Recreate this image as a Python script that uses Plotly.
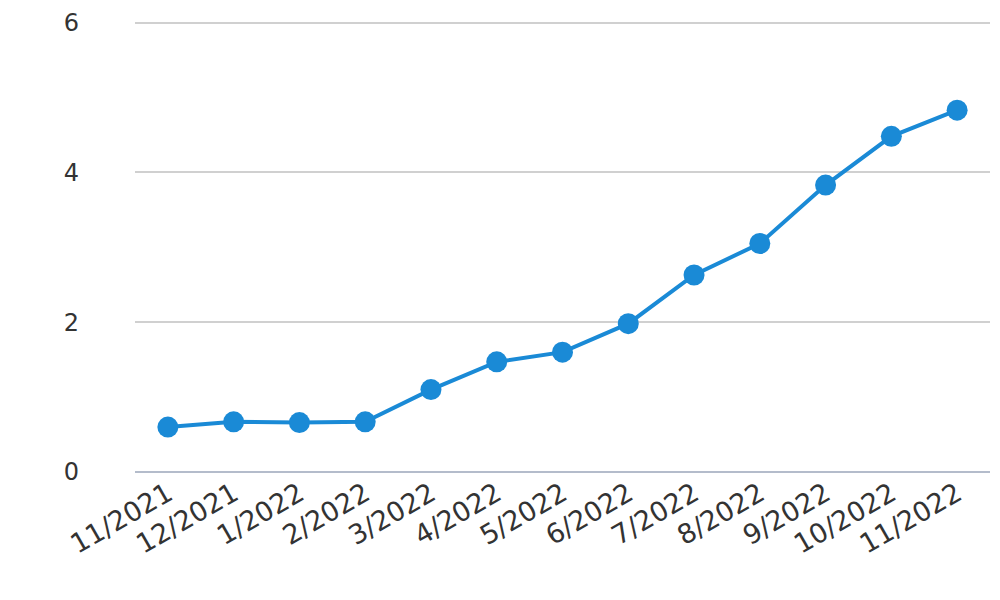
import plotly.graph_objects as go

months = ["11/2021", "12/2021", "1/2022", "2/2022", "3/2022", "4/2022", "5/2022",
          "6/2022", "7/2022", "8/2022", "9/2022", "10/2022", "11/2022"]
values = [0.60, 0.67, 0.66, 0.67, 1.10, 1.47, 1.60, 1.98, 2.63, 3.05, 3.83, 4.48, 4.83]
y_ticks = [0, 2, 4, 6]

fig = go.Figure(go.Scatter(
    x=months, y=values, mode="lines+markers",
    line=dict(color="#1a8ad6", width=4),
    marker=dict(color="#1a8ad6", size=21),
))

fig.update_layout(
    width=992, height=592,
    margin=dict(l=127, r=10, t=13, b=128),
    plot_bgcolor="white", paper_bgcolor="white",
    showlegend=False,
    font=dict(family="DejaVu Sans", color="#333333"),
)
fig.update_xaxes(
    type="category", range=[-0.5, 12.5], tickangle=-30,
    tickfont=dict(size=27, color="#333333"), showgrid=False,
    showline=False, ticks="", automargin=False,
)
fig.update_yaxes(
    range=[0, 6.02], tickvals=y_ticks, showgrid=True, gridcolor="#d0d0d0",
    gridwidth=1.5, zeroline=True, zerolinecolor="#b4bccb", zerolinewidth=2,
    tickfont=dict(size=24, color="#333333"), ticklabelstandoff=55,
    ticklabeloverflow="allow", automargin=False,
)

fig.write_html("out.html")
